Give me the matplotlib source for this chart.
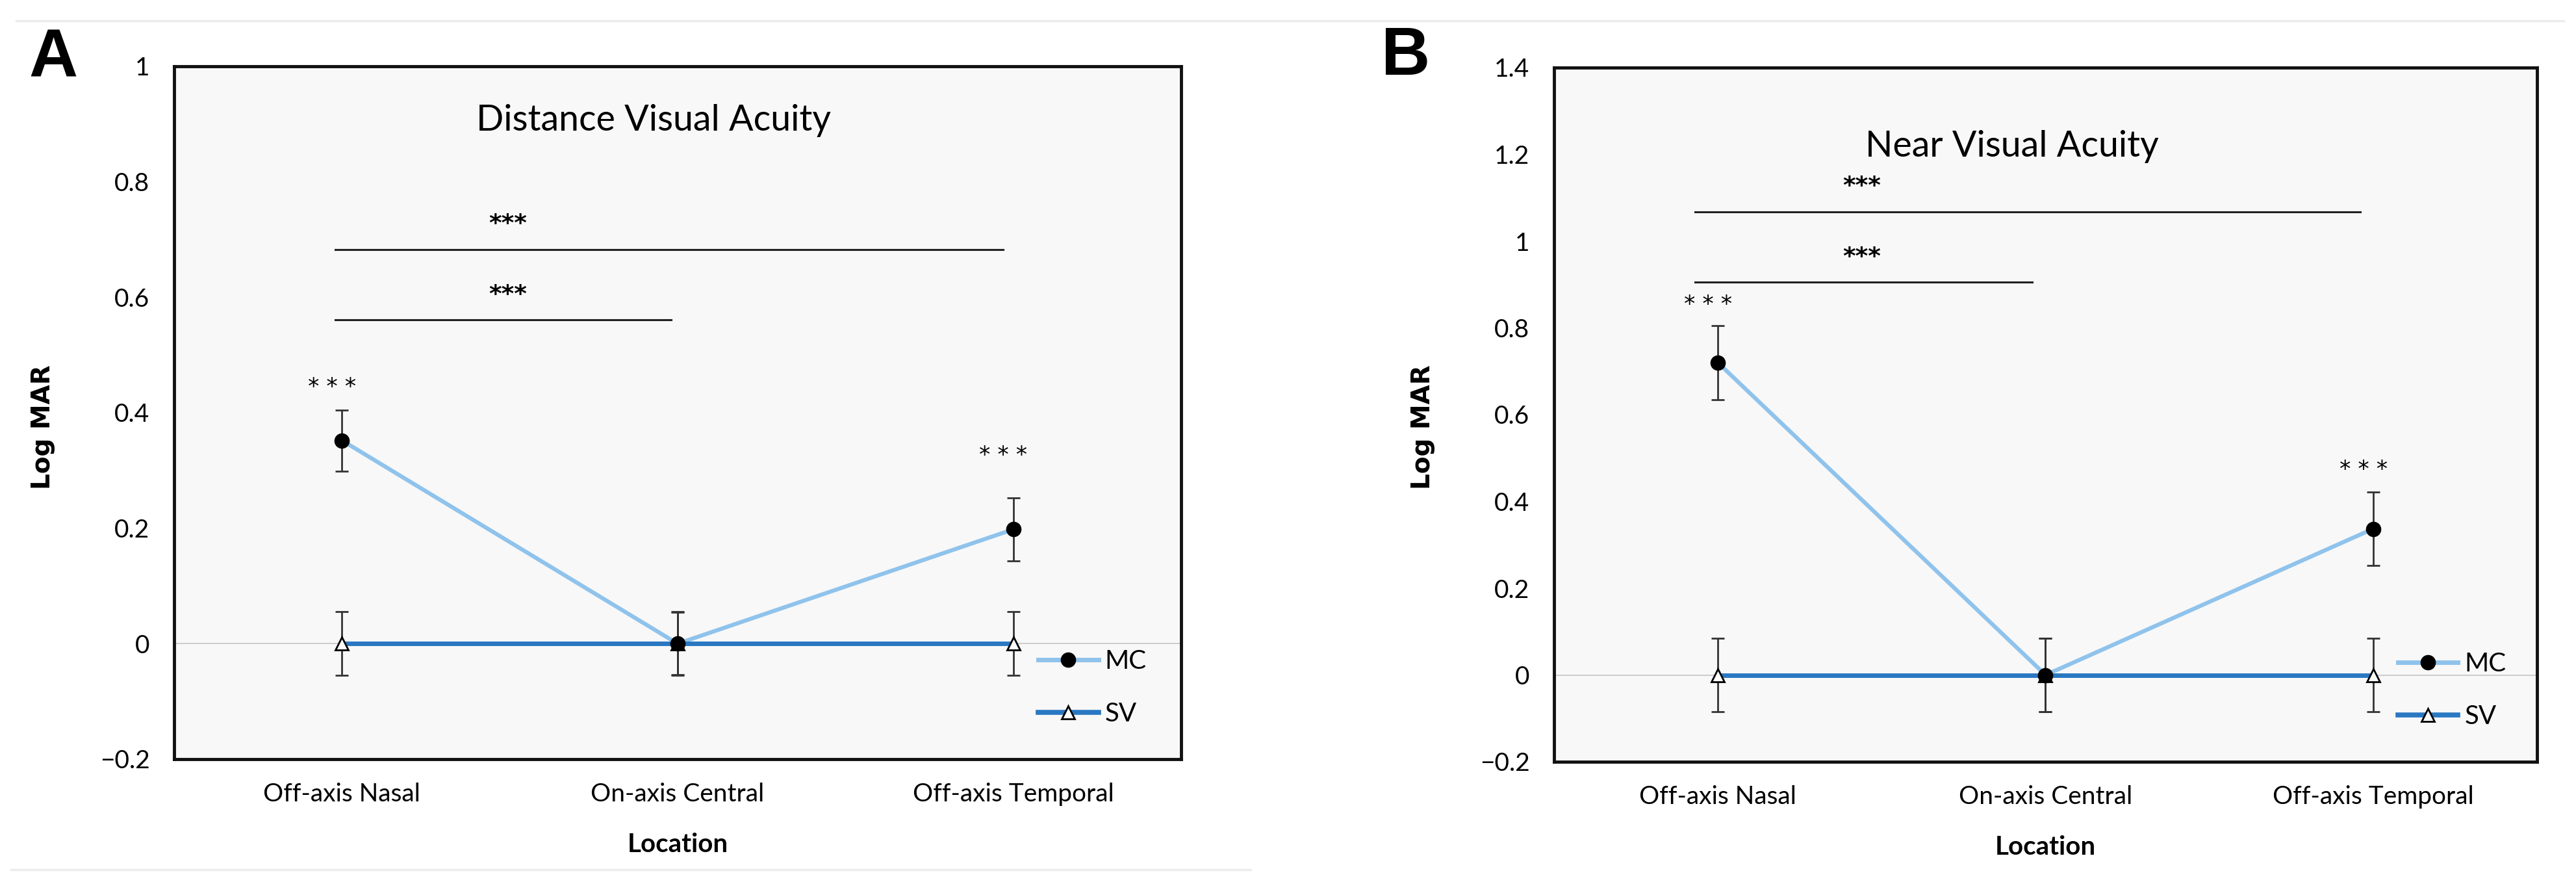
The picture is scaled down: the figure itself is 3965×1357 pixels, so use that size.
import numpy as np
import matplotlib
matplotlib.use("Agg")
import matplotlib.pyplot as plt
from matplotlib.lines import Line2D

# data
locations = ['Off-axis Nasal', 'On-axis Central', 'Off-axis Temporal']

dist_mc = [0.352, 0.0, 0.198]
dist_mc_err = [0.053, 0.054, 0.055]
dist_sv = [0.0, 0.0, 0.0]
dist_sv_err = [0.055, 0.055, 0.055]

near_mc = [0.72, 0.0, 0.337]
near_mc_err = [0.085, 0.085, 0.084]
near_sv = [0.0, 0.0, 0.0]
near_sv_err = [0.085, 0.085, 0.085]

# significance lines: (x start, x end, y level), star label above
dist_brackets = [(-0.02, 1.97, 0.683), (-0.02, 0.98, 0.561)]
near_brackets = [(-0.07, 1.96, 1.068), (-0.07, 0.96, 0.905)]
dist_point_stars = [(0, 0.444), (2, 0.326)]
near_point_stars = [(0, 0.853), (2, 0.473)]

MC_COLOR = '#8fc3ec'
SV_COLOR = '#2a78c2'
FONT = 'Lato'

W, H = 3966, 1357
fig = plt.figure(figsize=(W / 100, H / 100), dpi=100)
fig.patch.set_facecolor('white')


def draw_panel(rect, mc, mc_err, sv, sv_err, ylim, yticks, title, title_pos,
               brackets, bracket_star_x, point_stars):
    ax = fig.add_axes(rect)
    ax.set_facecolor('#f8f8f8')
    x = np.arange(len(locations))

    ax.axhline(0, color='#c9c9c9', lw=1.3, zorder=1)

    ax.plot(x, mc, color=MC_COLOR, lw=4.5, zorder=2)
    ax.plot(x, sv, color=SV_COLOR, lw=5, zorder=3)
    ax.errorbar(x, mc, yerr=mc_err, fmt='none', ecolor='#333333',
                elinewidth=2, capsize=7.5, capthick=2, zorder=4)
    ax.errorbar(x, sv, yerr=sv_err, fmt='none', ecolor='#333333',
                elinewidth=2, capsize=7.5, capthick=2, zorder=4)
    ax.plot(x, sv, ls='none', marker='^', ms=15, mfc='white', mec='black',
            mew=2, zorder=5)
    ax.plot(x, mc, ls='none', marker='o', ms=16, mfc='black', mec='black',
            zorder=6)

    for x0, x1, yl in brackets:
        ax.plot([x0, x1], [yl, yl], color='#222222', lw=2.2, zorder=2)
        ax.text(bracket_star_x, yl + 0.043 * (ylim[1] - ylim[0]) / 1.2, '***',
                ha='center', va='center', fontsize=27, fontweight='bold',
                family='DejaVu Sans')
    for xi, ys in point_stars:
        ax.text(xi - 0.03, ys, '* * *', ha='center', va='center',
                fontsize=25, family='DejaVu Sans')

    ax.text(title_pos[0], title_pos[1], title, transform=ax.transAxes,
            ha='center', va='baseline', fontsize=40, family=FONT)

    ax.set_xlim(-0.5, 2.5)
    ax.set_ylim(*ylim)
    ax.set_xticks(x)
    ax.set_xticklabels(locations, fontsize=28, family=FONT)
    ax.set_yticks(yticks)
    ax.set_yticklabels([('\u22120.2' if t < 0 else ('%g' % t)) for t in yticks],
                       fontsize=28, family=FONT)
    ax.tick_params(axis='both', length=0)
    ax.tick_params(axis='y', pad=27)
    ax.tick_params(axis='x', pad=26)
    for s in ax.spines.values():
        s.set_linewidth(3.5)
        s.set_color('#111111')

    ax.set_xlabel('Location', fontsize=29, fontweight='bold', family=FONT)
    ax.xaxis.set_label_coords(0.5, -0.106)
    ax.set_ylabel('Log MAR', fontsize=28, fontweight='bold', family='DejaVu Sans')

    handles = [
        Line2D([], [], color=MC_COLOR, lw=5, marker='o', ms=16, mfc='black',
               mec='black'),
        Line2D([], [], color=SV_COLOR, lw=5.5, marker='^', ms=15, mfc='white',
               mec='black', mew=2),
    ]
    ax.legend(handles, ['MC', 'SV'], loc='center left',
              bbox_to_anchor=(0.845, 0.103), frameon=False,
              prop={'family': FONT, 'size': 29}, handlelength=2.3,
              handletextpad=0.25, labelspacing=1.1, borderpad=0)
    return ax


axA = draw_panel([268 / W, 1 - 1168 / H, 1550 / W, 1066 / H],
                 dist_mc, dist_mc_err, dist_sv, dist_sv_err,
                 (-0.2, 1.0), [-0.2, 0, 0.2, 0.4, 0.6, 0.8, 1.0],
                 'Distance Visual Acuity', (0.476, 0.907),
                 dist_brackets, 0.495, dist_point_stars)
axA.yaxis.set_label_coords(-0.118, 0.479)

axB = draw_panel([2392 / W, 1 - 1172 / H, 1513 / W, 1068 / H],
                 near_mc, near_mc_err, near_sv, near_sv_err,
                 (-0.2, 1.4), [-0.2, 0, 0.2, 0.4, 0.6, 0.8, 1.0, 1.2, 1.4],
                 'Near Visual Acuity', (0.466, 0.872),
                 near_brackets, 0.44, near_point_stars)
axB.yaxis.set_label_coords(-0.121, 0.482)

# panel letters
fig.text(44 / W, 1 - 117 / H, 'A', fontsize=75, fontweight='bold',
         family='Liberation Sans', va='baseline', ha='left')
fig.text(2126 / W, 1 - 115 / H, 'B', fontsize=75, fontweight='bold',
         family='Liberation Sans', va='baseline', ha='left')

# faint separator lines from the original figure composite
fig.add_artist(Line2D([25 / W, 3946 / W], [1 - 32 / H, 1 - 32 / H],
                      color='#ececec', lw=2.5))
fig.add_artist(Line2D([17 / W, 1925 / W], [1 - 1338 / H, 1 - 1338 / H],
                      color='#ececec', lw=2.5))

fig.savefig('out.png', dpi=100, facecolor='white')
